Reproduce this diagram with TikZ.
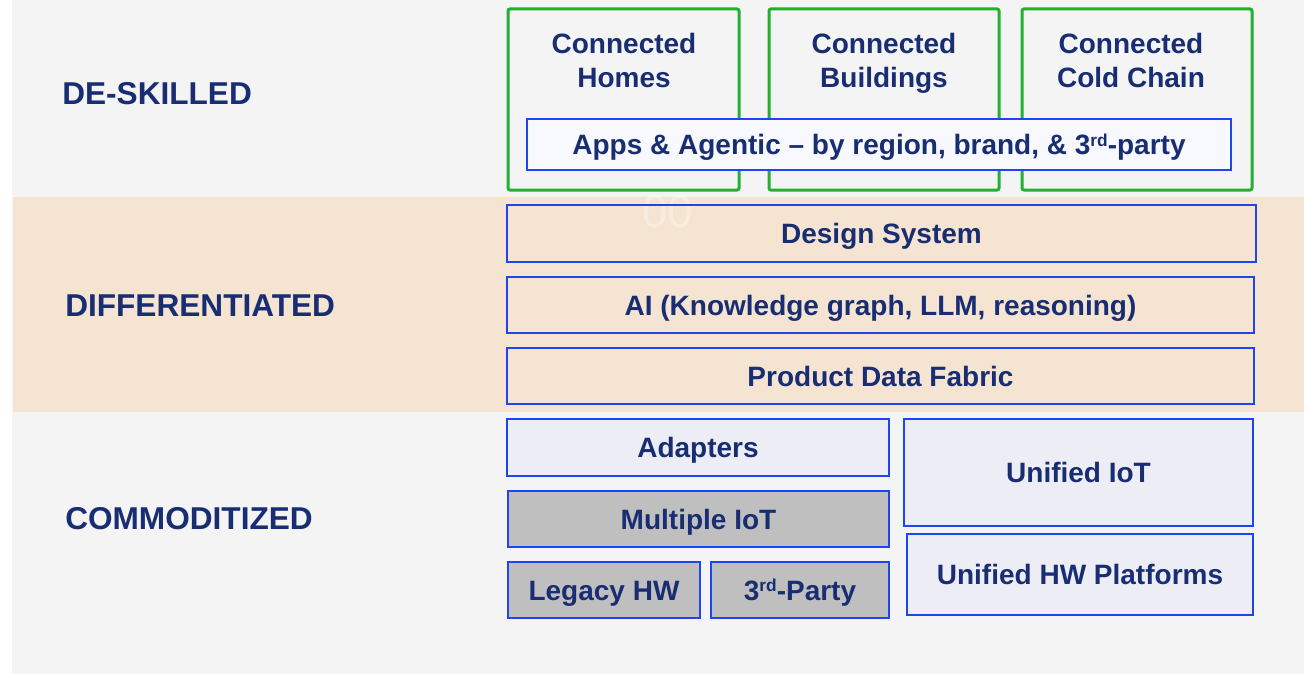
\documentclass[tikz,border=0pt]{standalone}
\usepackage{fontspec}
\setmainfont{Liberation Sans}
\usetikzlibrary{fit}
\definecolor{navy}{RGB}{25,46,114}
\definecolor{bggray}{HTML}{F4F4F4}
\definecolor{band}{HTML}{F5E4D2}
\definecolor{bblue}{RGB}{30,70,240}
\definecolor{ggreen}{RGB}{34,176,51}
\definecolor{appsfill}{HTML}{F8F9FE}
\definecolor{lightfill}{HTML}{EDEEF5}
\definecolor{grayfill}{HTML}{BFBFBF}
\newcommand\myrd{\raisebox{6.2pt}{\fontsize{13}{13}\selectfont rd}}
\tikzset{
  boxtext/.style={text=navy, font=\bfseries\fontsize{21}{25.5}\selectfont},
  boxlbl/.style={boxtext, inner sep=0pt, text height=15pt, text depth=0pt},
  bluebox/.style={draw=bblue, line width=1.5pt, inner sep=0pt},
  greenbox/.style={draw=ggreen, line width=2.25pt, rounded corners=1.5pt, inner sep=0pt},
  greentext/.style={boxtext, align=center, text depth=0pt, inner sep=0pt},
  layerlabel/.style={text=navy, font=\bfseries\fontsize{23.7}{28}\selectfont, anchor=west, inner sep=0pt, text height=17pt, text depth=0pt},
  ghost/.style={text=white, text opacity=0.3, font=\fontsize{34.5}{40}\selectfont, inner sep=0pt}
}
\begin{document}
\begin{tikzpicture}[x=0.75pt,y=-0.75pt]
\useasboundingbox (0,0) rectangle (1304,674);
\fill[white] (0,0) rectangle (1304,674);
\fill[bggray] (12,0) rectangle (1304,674);
\fill[band] (13,197) rectangle (1304,412);

% layer labels
\node[layerlabel] (deskilled) at (62,93) {DE-SKILLED};
\node[layerlabel] (diff) at (65,305) {DIFFERENTIATED};
\node[layerlabel] (commod) at (65,518) {COMMODITIZED};

% top green boxes
\node[greenbox, fit={(508,9) (739,190)}] (homes) {};
\node[greenbox, fit={(769,9) (999,190)}] (buildings) {};
\node[greenbox, fit={(1022,9) (1252,190)}] (coldchain) {};
\node[greentext] (homesT) at (624,60) {Connected\\Homes};
\node[greentext] (buildingsT) at (884,60) {Connected\\Buildings};
\node[greentext] (coldchainT) at (1131,60) {Connected\\Cold Chain};

% apps
\node[bluebox, fill=appsfill, fit={(527,119) (1231,170)},
      label={[boxlbl]center:Apps \& Agentic -- by region, brand, \& 3\myrd-party}] (apps) {};

% differentiated layers
\node[ghost] (ghosttext) at (668,212) {00};
\node[bluebox, fit={(507,205) (1256,262)}, label={[boxlbl]center:Design System}] (design) {};
\node[bluebox, fit={(507,277) (1254,333)}, label={[boxlbl]center:AI (Knowledge graph, LLM, reasoning)}] (ai) {};
\node[bluebox, fit={(507,348) (1254,404)}, label={[boxlbl]center:Product Data Fabric}] (pdf) {};

% commoditized
\node[bluebox, fill=lightfill, fit={(507,419) (889,476)}, label={[boxlbl]center:Adapters}] (adapters) {};
\node[bluebox, fill=grayfill, fit={(508,491) (889,547)}, label={[boxlbl]center:Multiple IoT}] (multiot) {};
\node[bluebox, fill=grayfill, fit={(508,562) (700,618)}, label={[boxlbl]center:Legacy HW}] (legacy) {};
\node[bluebox, fill=grayfill, fit={(711,562) (889,618)}, label={[boxlbl]center:3\myrd-Party}] (thirdparty) {};
\node[bluebox, fill=lightfill, fit={(904,419) (1253,526)}, label={[boxlbl]center:Unified IoT}] (uniot) {};
\node[bluebox, fill=lightfill, fit={(907,534) (1253,615)}, label={[boxlbl]center:Unified HW Platforms}] (unihw) {};
\end{tikzpicture}
\end{document}
